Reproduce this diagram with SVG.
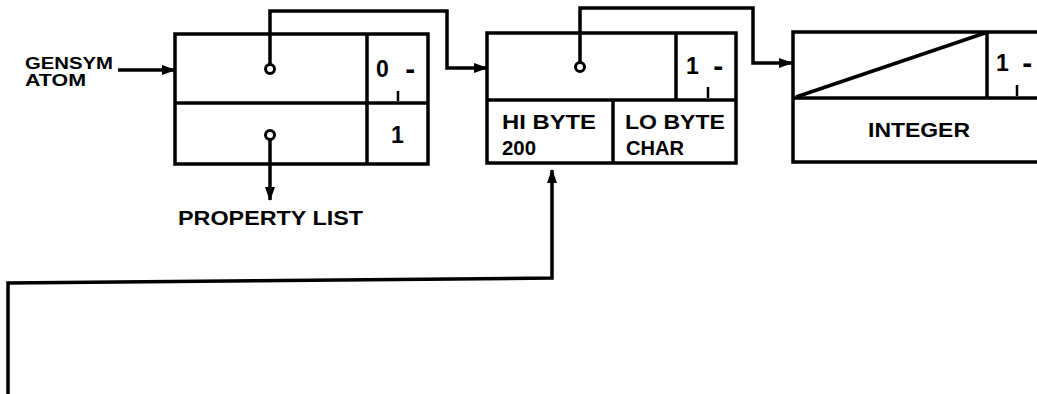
<svg xmlns="http://www.w3.org/2000/svg" width="1037" height="394" viewBox="0 0 1037 394">
<style>
.box{fill:#fff;stroke:#000;stroke-width:3.5}
.ln{fill:none;stroke:#000;stroke-width:3.5}
.thin{fill:none;stroke:#000;stroke-width:2.5}
.dot{fill:#fff;stroke:#000;stroke-width:3}
.t{font-family:"Liberation Sans",Arial,sans-serif;font-weight:bold;fill:#000}
.s17{font-size:17px}
.s21{font-size:21px}
.s23{font-size:23px}
.dash{font-size:30px}
</style>
<defs>
<marker id="ah" markerWidth="14" markerHeight="10" refX="13" refY="5" orient="auto" markerUnits="userSpaceOnUse">
<path d="M0,0 L14,5 L0,10 z" fill="#000"/>
</marker>
</defs>
<rect width="1037" height="394" fill="#fff"/>

<g id="label-gensym">
<text class="t s17" x="25" y="69" textLength="88" lengthAdjust="spacingAndGlyphs">GENSYM</text>
<text class="t s17" x="25" y="86" textLength="61" lengthAdjust="spacingAndGlyphs">ATOM</text>
</g>

<g id="node-atom">
<rect class="box" x="175" y="34" width="253" height="130"/>
<line class="ln" x1="175" y1="103" x2="428" y2="103"/>
<line class="ln" x1="367" y1="34" x2="367" y2="164"/>
<text class="t s23" y="77"><tspan x="376">0</tspan><tspan class="dash" x="397" y="79"> -</tspan></text>
<line class="thin" x1="398" y1="91" x2="398" y2="101"/>
<text class="t s23" x="391" y="143">1</text>
</g>

<g id="node-pname">
<rect class="box" x="487" y="33" width="249" height="130"/>
<line class="ln" x1="487" y1="100" x2="736" y2="100"/>
<line class="ln" x1="676" y1="33" x2="676" y2="100"/>
<line class="ln" x1="613" y1="100" x2="613" y2="163"/>
<text class="t s23" y="74"><tspan x="686">1</tspan><tspan class="dash" x="705" y="76"> -</tspan></text>
<line class="thin" x1="708" y1="87" x2="708" y2="98"/>
<text class="t s21" x="502" y="129" textLength="94" lengthAdjust="spacingAndGlyphs">HI BYTE</text>
<text class="t s21" x="502" y="155" textLength="34" lengthAdjust="spacingAndGlyphs">200</text>
<text class="t s21" x="625" y="129" textLength="100" lengthAdjust="spacingAndGlyphs">LO BYTE</text>
<text class="t s21" x="626" y="155" textLength="58" lengthAdjust="spacingAndGlyphs">CHAR</text>
</g>

<g id="node-integer">
<rect class="box" x="793" y="32" width="270" height="130"/>
<line class="ln" x1="793" y1="98" x2="1037" y2="98"/>
<line class="ln" x1="987" y1="32" x2="987" y2="98"/>
<line class="ln" x1="796" y1="97" x2="985" y2="33"/>
<text class="t s23" y="71"><tspan x="996">1</tspan><tspan class="dash" x="1014" y="73"> -</tspan></text>
<line class="thin" x1="1017" y1="85" x2="1017" y2="96"/>
<text class="t s21" x="868" y="137" textLength="102" lengthAdjust="spacingAndGlyphs">INTEGER</text>
</g>

<g id="label-property-list">
<text class="t s21" x="178" y="225" textLength="185" lengthAdjust="spacingAndGlyphs">PROPERTY LIST</text>
</g>

<g id="connectors">
<path class="ln" d="M118,70 H175" marker-end="url(#ah)"/>
<path class="ln" d="M270,65 V11 H447 V68 H487" marker-end="url(#ah)"/>
<path class="ln" d="M270,139 V200" marker-end="url(#ah)"/>
<path class="ln" d="M580,63 V8 H753 V63 H792" marker-end="url(#ah)"/>
<path class="ln" d="M8,394 V283 L552,278 V170" marker-end="url(#ah)"/>
<circle class="dot" cx="270" cy="69" r="4.5"/>
<circle class="dot" cx="270" cy="135" r="4.5"/>
<circle class="dot" cx="580" cy="67" r="4.5"/>
</g>
</svg>
